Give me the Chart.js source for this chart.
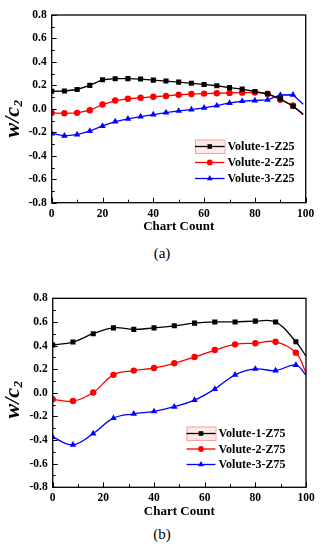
<!DOCTYPE html>
<html>
<head>
<meta charset="utf-8">
<script src="https://cdn.jsdelivr.net/npm/chart.js@4.4.1/dist/chart.umd.min.js"></script>
<style>
  body { margin: 0; background: #fff; }
  #wrap { position: relative; width: 330px; height: 550px; overflow: hidden; }
  canvas { position: absolute; left: 0; }
  .cap { position: absolute; width: 40px; text-align: center; font: 15px 'Liberation Serif', serif; color: #000; }
</style>
</head>
<body>
<div id="wrap">
  <canvas id="chartA" width="330" height="240" style="top:0"></canvas>
  <canvas id="chartB" width="330" height="240" style="top:283px"></canvas>
  <div class="cap" style="left:142px;top:245px">(a)</div>
  <div class="cap" style="left:142px;top:526px">(b)</div>
</div>
<script>
// panel (a): markers every 5, last point is the line end (no marker)
const xA = [0, 5, 10, 15, 20, 25, 30, 35, 40, 45, 50, 55, 60, 65, 70, 75, 80, 85, 90, 95, 99];
const volute1A = [0.15, 0.152, 0.165, 0.2, 0.248, 0.257, 0.258, 0.254, 0.245, 0.237, 0.228, 0.218, 0.208, 0.197, 0.181, 0.168, 0.148, 0.128, 0.086, 0.022, -0.045];
const volute2A = [-0.034, -0.038, -0.034, -0.012, 0.037, 0.071, 0.086, 0.094, 0.103, 0.11, 0.12, 0.126, 0.13, 0.133, 0.136, 0.138, 0.14, 0.13, 0.078, 0.028, -0.05];
const volute3A = [-0.21, -0.23, -0.22, -0.19, -0.146, -0.108, -0.085, -0.066, -0.049, -0.032, -0.018, -0.006, 0.008, 0.027, 0.05, 0.065, 0.071, 0.077, 0.118, 0.12, 0.04];
const labelsA = ['Volute-1-Z25', 'Volute-2-Z25', 'Volute-3-Z25'];

// panel (b): markers every 8
const xB = [0, 8, 16, 24, 32, 40, 48, 56, 64, 72, 80, 88, 96, 100];
const volute1B = [0.405, 0.43, 0.5, 0.55, 0.537, 0.55, 0.567, 0.59, 0.6, 0.6, 0.607, 0.6, 0.432, 0.31];
const volute2B = [-0.055, -0.07, 0.003, 0.152, 0.188, 0.21, 0.25, 0.303, 0.362, 0.41, 0.42, 0.432, 0.34, 0.17];
const volute3B = [-0.375, -0.44, -0.345, -0.215, -0.178, -0.158, -0.118, -0.062, 0.032, 0.152, 0.202, 0.188, 0.235, 0.15];
const labelsB = ['Volute-1-Z75', 'Volute-2-Z75', 'Volute-3-Z75'];

const xTicks = [0, 20, 40, 60, 80, 100];
const yTicks = [-0.8, -0.6, -0.4, -0.2, 0.0, 0.2, 0.4, 0.6, 0.8];

const FONT = "'Liberation Serif', 'Times New Roman', serif";
const colors = ['#000000', '#ff0000', '#0000ff'];
const styles = ['rect', 'circle', 'triangle'];
const radii = [3.6, 3.2, 3.8];

function makeSets(xs, series, labels, tension) {
  return series.map((ys, i) => ({
    label: labels[i],
    data: xs.map((x, j) => ({ x: x, y: ys[j] })),
    borderColor: colors[i],
    backgroundColor: colors[i],
    borderWidth: 1.3,
    pointStyle: styles[i],
    pointRadius: ctx => ctx.dataIndex === xs.length - 1 ? 0 : radii[i],
    pointBorderWidth: 0,
    tension: tension
  }));
}

// frame, inward ticks, y title with subscript, legend
const decor = {
  id: 'decor',
  afterDraw(chart) {
    const { ctx, chartArea: a, scales: { x, y } } = chart;
    const o = chart.options.plugins.decor;
    ctx.save();
    ctx.strokeStyle = '#000';
    ctx.lineWidth = 1.3;
    ctx.strokeRect(a.left, a.top, a.right - a.left, a.bottom - a.top);
    ctx.lineWidth = 1;
    ctx.beginPath();
    for (let v = 0; v <= 100; v += 10) {
      const px = Math.round(x.getPixelForValue(v)) + 0.5;
      const len = v % 20 ? 3 : 5;
      ctx.moveTo(px, a.bottom); ctx.lineTo(px, a.bottom - len);
    }
    for (let k = -8; k <= 8; k++) {
      const py = Math.round(y.getPixelForValue(k / 10)) + 0.5;
      const len = k % 2 ? 3 : 5;
      ctx.moveTo(a.left, py); ctx.lineTo(a.left + len, py);
    }
    ctx.stroke();

    // x title
    ctx.fillStyle = '#000';
    ctx.font = 'bold 13px ' + FONT;
    ctx.textAlign = 'center';
    ctx.textBaseline = 'middle';
    ctx.fillText('Chart Count', (a.left + a.right) / 2, a.bottom + 24);

    // y title: w/c2, rotated
    ctx.save();
    ctx.translate(13, o.titleY);
    ctx.rotate(-Math.PI / 2);
    ctx.font = 'italic bold 22px ' + FONT;
    const main = 'w/c';
    const w1 = ctx.measureText(main).width;
    ctx.font = 'italic bold 13px ' + FONT;
    const w2 = ctx.measureText('2').width;
    const x0 = -(w1 + w2) / 2;
    ctx.textAlign = 'left';
    ctx.textBaseline = 'alphabetic';
    ctx.font = 'italic bold 22px ' + FONT;
    ctx.fillText(main, x0, 6);
    ctx.font = 'italic bold 13px ' + FONT;
    ctx.fillText('2', x0 + w1 + 0.5, 9);
    ctx.restore();

    // legend
    const lg = o.legend;
    ctx.fillStyle = 'rgba(255,190,190,0.35)';
    ctx.strokeStyle = '#f4a3a3';
    ctx.lineWidth = 1;
    ctx.fillRect(lg.x, lg.y - 7, lg.len, 13.5);
    ctx.strokeRect(lg.x + 0.5, lg.y - 7 + 0.5, lg.len, 13.5);
    chart.data.datasets.forEach((ds, i) => {
      const yy = lg.y + i * lg.gap;
      ctx.strokeStyle = ds.borderColor;
      ctx.fillStyle = ds.borderColor;
      ctx.lineWidth = 1.3;
      ctx.beginPath();
      ctx.moveTo(lg.x, yy); ctx.lineTo(lg.x + lg.len, yy);
      ctx.stroke();
      Chart.helpers.drawPoint(ctx, { pointStyle: styles[i], radius: radii[i] * 0.9, rotation: 0, borderWidth: 0 }, lg.x + lg.len / 2, yy);
      ctx.fillStyle = '#000';
      ctx.font = 'bold 12px ' + FONT;
      ctx.textAlign = 'left';
      ctx.textBaseline = 'middle';
      ctx.fillText(ds.label, lg.x + lg.len + 3, yy + 0.5);
    });
    ctx.restore();
  }
};

function makeChart(id, xs, series, labels, tension, box) {
  return new Chart(document.getElementById(id), {
    type: 'line',
    data: { datasets: makeSets(xs, series, labels, tension) },
    options: {
      responsive: false,
      animation: false,
      events: [],
      layout: { padding: { left: 0, right: 330 - box.right, top: box.top, bottom: 0 } },
      plugins: {
        legend: { display: false },
        tooltip: { enabled: false },
        decor: { titleY: box.titleY, legend: box.legend }
      },
      scales: {
        x: {
          type: 'linear', min: 0, max: 100,
          afterBuildTicks: s => { s.ticks = xTicks.map(v => ({ value: v })); },
          ticks: { font: { family: FONT, size: 11.5, weight: 'bold' }, color: '#000', padding: 4, maxRotation: 0 },
          grid: { display: false, drawTicks: false }, border: { display: false },
          afterFit: s => { s.height = 240 - box.bottom; }
        },
        y: {
          min: -0.8, max: 0.8,
          afterBuildTicks: s => { s.ticks = yTicks.map(v => ({ value: v })); },
          ticks: {
            font: { family: FONT, size: 11.5, weight: 'bold' }, color: '#000', padding: 5,
            callback: v => Math.abs(v) < 1e-9 ? '0.0' : v.toFixed(1)
          },
          grid: { display: false, drawTicks: false }, border: { display: false },
          afterFit: s => { s.width = box.left; }
        }
      }
    },
    plugins: [decor]
  });
}

makeChart('chartA', xA, [volute1A, volute2A, volute3A], labelsA, 0,
  { left: 51.7, right: 305.7, top: 15, bottom: 202.7, titleY: 119, legend: { x: 195, y: 146.5, len: 29.5, gap: 16 } });
makeChart('chartB', xB, [volute1B, volute2B, volute3B], labelsB, 0.4,
  { left: 52.7, right: 306, top: 15.3, bottom: 204.3, titleY: 117, legend: { x: 186.5, y: 150.5, len: 29, gap: 15.5 } });
</script>
</body>
</html>
